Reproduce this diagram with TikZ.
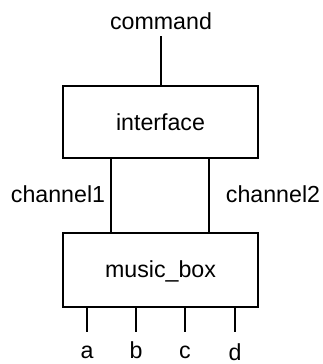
\documentclass[tikz,border=0pt]{standalone}
\usepackage{fontspec}
\setmainfont{Liberation Sans}
\begin{document}
\begin{tikzpicture}[x=1pt,y=-1pt,
  box/.style={draw,line width=1.3pt,minimum width=195pt,inner sep=0pt},
  wire/.style={line width=1.3pt},
  lbl/.style={anchor=base,inner sep=0pt,font=\fontsize{23.2}{26}\selectfont}]
\useasboundingbox (0,0) rectangle (323,364);
\node[box,minimum height=72pt] (iface) at (160.5,122) {};
\node[lbl] (ifacet) at (160.5,130) {interface};
\node[box,minimum height=74pt] (mbox) at (160.5,270) {};
\node[lbl] (mboxt) at (160.5,277) {music\_box};
\node[lbl] (cmd) at (161,29) {command};
\coordinate (cmdend) at (161,36);
\draw[wire] (cmdend) -- (cmdend |- iface.north);
\node[lbl] (ch1) at (58,202) {channel1};
\node[lbl] (ch2) at (273,202) {channel2};
\coordinate (c1) at (111,0);
\coordinate (c2) at (209,0);
\draw[wire] (c1 |- iface.south) -- (c1 |- mbox.north);
\draw[wire] (c2 |- iface.south) -- (c2 |- mbox.north);
\foreach \n/\x/\y in {a/87/358.5,b/136/358.5,c/185/358.5,d/235/360.5}{
  \node[lbl] (o\n) at (\x,\y) {\n};
  \coordinate (e\n) at (\x,332);
  \draw[wire] (e\n |- mbox.south) -- (e\n);
}
\end{tikzpicture}
\end{document}
